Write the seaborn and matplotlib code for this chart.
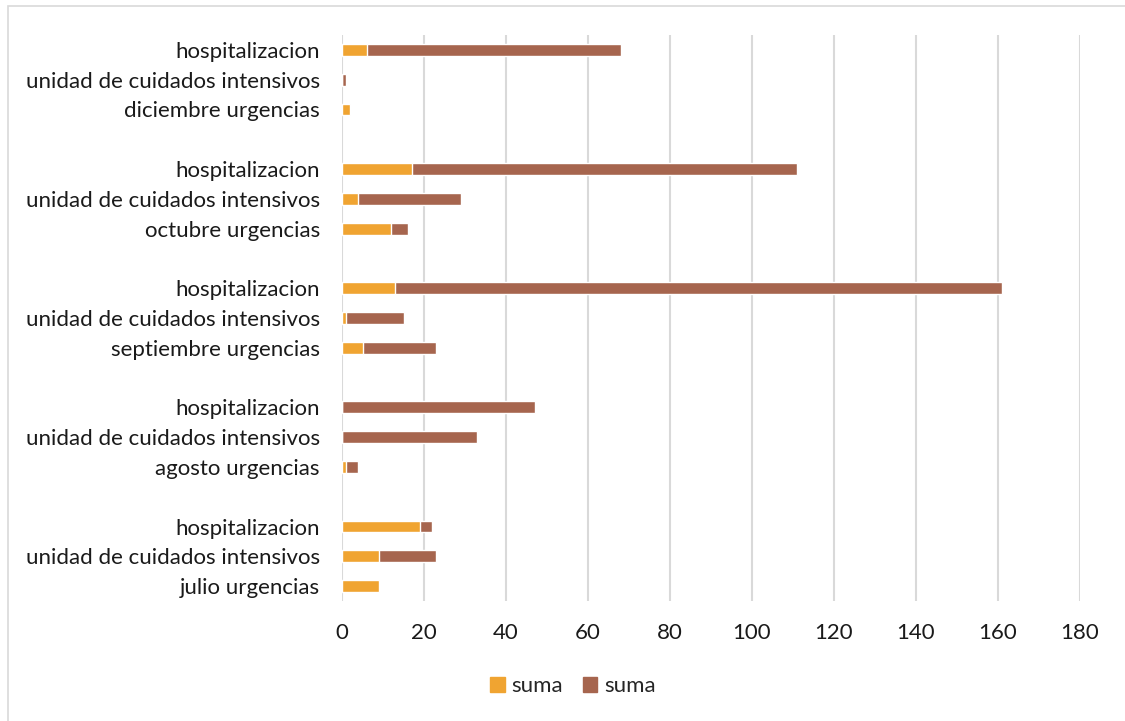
import matplotlib
matplotlib.use("Agg")
import matplotlib.pyplot as plt
import matplotlib.patches as mpatches
import seaborn as sns
import pandas as pd

# Rows listed top to bottom; each month has urgencias, UCI and hospitalizacion
months = ["diciembre", "octubre", "septiembre", "agosto", "julio"]
units = ["hospitalizacion", "unidad de cuidados intensivos", "urgencias"]

# first "suma" series (orange), per month, in the order of units
suma_1 = {
    "diciembre": [6, 0, 2],
    "octubre": [17, 4, 12],
    "septiembre": [13, 1, 5],
    "agosto": [0, 0, 1],
    "julio": [19, 9, 9],
}
# second "suma" series (brown), stacked after the first
suma_2 = {
    "diciembre": [62, 1, 0],
    "octubre": [94, 25, 4],
    "septiembre": [148, 14, 18],
    "agosto": [47, 33, 3],
    "julio": [3, 14, 0],
}
x_ticks = [0, 20, 40, 60, 80, 100, 120, 140, 160, 180]

color_1 = "#F0A431"
color_2 = "#A6654E"

rows = []
order = []
labels = []
for gi, m in enumerate(months):
    for ui, u in enumerate(units):
        key = f"{m}_{ui}"
        label = f"{m} urgencias" if u == "urgencias" else u
        a = suma_1[m][ui]
        b = suma_2[m][ui]
        rows.append({"key": key, "label": label, "s1": a, "total": a + b})
        order.append(key)
        labels.append(label)
    if gi < len(months) - 1:
        order.append(f"gap_{gi}")
        labels.append("")
df = pd.DataFrame(rows)

sns.set_theme(style="white")
plt.rcParams["font.family"] = ["Lato", "DejaVu Sans"]

fig = plt.figure(figsize=(11.25, 7.21), dpi=100)
ax = fig.add_axes([342 / 1125, 1 - 601 / 721, (1080 - 342) / 1125, (601 - 35) / 721])

sns.barplot(data=df, y="key", x="total", order=order, orient="h",
            color=color_2, width=0.4, saturation=1, ax=ax, zorder=3)
sns.barplot(data=df, y="key", x="s1", order=order, orient="h",
            color=color_1, width=0.4, saturation=1, ax=ax, zorder=4)

ax.set_xlim(0, 180)
ax.set_xticks(x_ticks)
ax.set_xticklabels([str(t) for t in x_ticks], fontsize=16, color="#1a1a1a")
ax.set_yticks(range(len(order)))
ax.set_yticklabels(labels, fontsize=16, color="#1a1a1a")
ax.tick_params(axis="both", length=0)
ax.tick_params(axis="x", pad=16)
ax.tick_params(axis="y", pad=16)
ax.set_xlabel("")
ax.set_ylabel("")
ax.grid(axis="x", color="#d9d9d9", linewidth=1.5, zorder=0)
ax.grid(axis="y", visible=False)
for s in ax.spines.values():
    s.set_visible(False)

handles = [mpatches.Patch(color=color_1, label="suma"),
           mpatches.Patch(color=color_2, label="suma")]
fig.legend(handles=handles, loc="center", bbox_to_anchor=(573 / 1125, 1 - 686 / 721),
           ncol=2, frameon=False, fontsize=16, handlelength=0.65, handleheight=0.65,
           handletextpad=0.3, columnspacing=0.9)

# outer chart frame
fig.add_artist(mpatches.Rectangle((8 / 1125, -0.1), 1.2, 1 - 6 / 721 + 0.1,
                                  transform=fig.transFigure, fill=False,
                                  edgecolor="#d9d9d9", linewidth=1.2))

fig.savefig("out.png", dpi=100, facecolor="white")
